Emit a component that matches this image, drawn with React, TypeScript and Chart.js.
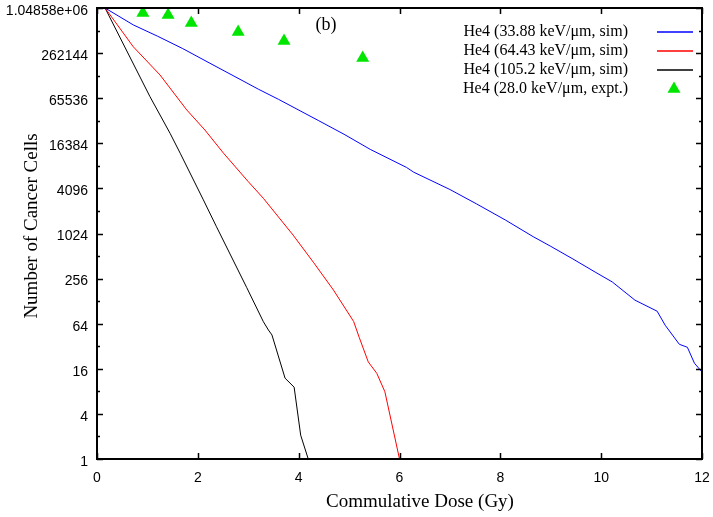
import React, { useEffect, useRef } from "react";
import { Chart, registerables } from "chart.js";

Chart.register(...registerables);

// ---- Data ----
const blueDose = [0.16, 0.72, 1.2, 1.7, 2.24, 2.7, 3.2, 3.6, 4.4, 4.9, 5.42, 6.14, 6.28, 7.0, 7.53, 8.1, 8.65, 9.0, 9.44, 9.88, 10.22, 10.67, 11.11, 11.27, 11.55, 11.71, 11.85, 12.0];
const blueCells = [1048576, 623400, 440900, 301200, 191900, 131072, 86500, 63300, 32768, 21630, 13590, 7800, 6750, 3960, 2540, 1550, 930, 690, 468, 313, 231, 132, 94, 61, 34, 31, 19, 14.5];

const redDose = [0.16, 0.72, 1.25, 1.78, 2.14, 2.51, 3.0, 3.3, 3.89, 4.3, 4.69, 5.09, 5.2, 5.38, 5.55, 5.71, 6.0];
const redCells = [1048576, 318300, 133800, 45700, 24660, 12080, 5040, 3020, 975, 416, 180, 68.6, 42.2, 19.8, 13.9, 7.9, 1];

const blackDose = [0.16, 1.05, 1.45, 1.65, 2.11, 2.37, 2.97, 3.3, 3.4, 3.47, 3.73, 3.91, 4.04, 4.19];
const blackCells = [1048576, 68800, 22230, 12080, 2876, 1261, 194, 68, 52.7, 45.3, 12.0, 9.1, 2.08, 1];

const exptDose = [0.91, 1.41, 1.87, 2.8, 3.71, 5.27];
const exptCells = [900000, 845600, 659000, 503000, 381200, 225000];

const seriesLabels = [
  "He4 (33.88 keV/\u03bcm, sim)",
  "He4 (64.43 keV/\u03bcm, sim)",
  "He4 (105.2 keV/\u03bcm, sim)",
  "He4 (28.0 keV/\u03bcm, expt.)",
];
const seriesColors = ["#0000ff", "#ff0000", "#000000", "#00e600"];

const xTickValues = [0, 2, 4, 6, 8, 10, 12];
const yMajorTicks = [1, 4, 16, 64, 256, 1024, 4096, 16384, 65536, 262144, 1048576];
const yMajorLabels = ["1", "4", "16", "64", "256", "1024", "4096", "16384", "65536", "262144", "1.04858e+06"];
const yMinorTicks = [2, 8, 32, 128, 512, 2048, 8192, 32768, 131072, 524288];

const xTitle = "Commulative Dose (Gy)";
const yTitle = "Number of Cancer Cells";
const panelLabel = "(b)";

const SERIF = '"Liberation Serif", "DejaVu Serif", serif';
const SANS = '"Liberation Sans", Arial, sans-serif';

const toPoints = (xs: number[], ys: number[]) => xs.map((x, i) => ({ x, y: ys[i] }));

const zeroPad = (s: any) => {
  s.paddingTop = 0;
  s.paddingBottom = 0;
  s.paddingLeft = 0;
  s.paddingRight = 0;
};

const decorPlugin = {
  id: "decor",
  afterDatasetsDraw(chart: any) {
    const { ctx, chartArea, scales } = chart;
    const { left, right, top, bottom } = chartArea;
    const xs = scales.x;
    const ys = scales.y;
    ctx.save();
    ctx.strokeStyle = "#000";
    // inward ticks
    ctx.lineWidth = 1.5;
    ctx.beginPath();
    yMajorTicks.forEach((v) => {
      const p = Math.round(ys.getPixelForValue(v)) + 0.5;
      ctx.moveTo(left, p); ctx.lineTo(left + 6, p);
      ctx.moveTo(right, p); ctx.lineTo(right - 6, p);
    });
    yMinorTicks.forEach((v) => {
      const p = Math.round(ys.getPixelForValue(v)) + 0.5;
      ctx.moveTo(left, p); ctx.lineTo(left + 3, p);
      ctx.moveTo(right, p); ctx.lineTo(right - 3, p);
    });
    xTickValues.forEach((v) => {
      const p = Math.round(xs.getPixelForValue(v)) + 0.5;
      ctx.moveTo(p, bottom); ctx.lineTo(p, bottom - 6);
      ctx.moveTo(p, top); ctx.lineTo(p, top + 6);
    });
    ctx.stroke();
    // frame
    ctx.lineWidth = 2;
    ctx.strokeRect(left, top, right - left, bottom - top);

    // panel label
    ctx.fillStyle = "#000";
    ctx.font = `18px ${SERIF}`;
    ctx.textAlign = "center";
    ctx.textBaseline = "middle";
    ctx.fillText(panelLabel, 326, 25);

    // legend
    ctx.font = `16px ${SERIF}`;
    ctx.textAlign = "right";
    const rowY = [32, 51, 70, 89];
    seriesLabels.forEach((lab, i) => {
      const y = rowY[i];
      ctx.fillStyle = "#000";
      ctx.fillText(lab, 628, y);
      if (i < 3) {
        ctx.strokeStyle = seriesColors[i];
        ctx.lineWidth = 1.5;
        ctx.beginPath();
        ctx.moveTo(657, y);
        ctx.lineTo(693, y);
        ctx.stroke();
      } else {
        const r = 7.5;
        ctx.fillStyle = seriesColors[i];
        ctx.beginPath();
        let rad = 0;
        const cx = 674;
        const cy = y;
        ctx.moveTo(cx + Math.sin(rad) * r, cy - Math.cos(rad) * r);
        rad += (2 * Math.PI) / 3;
        ctx.lineTo(cx + Math.sin(rad) * r, cy - Math.cos(rad) * r);
        rad += (2 * Math.PI) / 3;
        ctx.lineTo(cx + Math.sin(rad) * r, cy - Math.cos(rad) * r);
        ctx.closePath();
        ctx.fill();
      }
    });

    // axis titles
    ctx.fillStyle = "#000";
    ctx.font = `19px ${SERIF}`;
    ctx.textAlign = "center";
    ctx.textBaseline = "middle";
    ctx.fillText(xTitle, 420, 502);
    ctx.translate(32, 226);
    ctx.rotate(-Math.PI / 2);
    ctx.fillText(yTitle, 0, 0);
    ctx.restore();
  },
};

export default function App() {
  const ref = useRef<HTMLCanvasElement | null>(null);
  useEffect(() => {
    if (!ref.current) return;
    const chart = new Chart(ref.current, {
      type: "line",
      data: {
        datasets: [
          { label: seriesLabels[0], data: toPoints(blueDose, blueCells), borderColor: seriesColors[0], borderWidth: 1, pointRadius: 0, fill: false, tension: 0 },
          { label: seriesLabels[1], data: toPoints(redDose, redCells), borderColor: seriesColors[1], borderWidth: 1, pointRadius: 0, fill: false, tension: 0 },
          { label: seriesLabels[2], data: toPoints(blackDose, blackCells), borderColor: seriesColors[2], borderWidth: 1, pointRadius: 0, fill: false, tension: 0 },
          { label: seriesLabels[3], data: toPoints(exptDose, exptCells), showLine: false, pointStyle: "triangle", pointRadius: 7.5, pointBackgroundColor: seriesColors[3], pointBorderColor: seriesColors[3], pointBorderWidth: 0, borderColor: seriesColors[3] },
        ],
      },
      options: {
        animation: false,
        responsive: true,
        maintainAspectRatio: false,
        layout: { padding: { top: 8, right: 11, left: 0, bottom: 0 } },
        plugins: { legend: { display: false }, tooltip: { enabled: false } },
        scales: {
          x: {
            type: "linear",
            min: 0,
            max: 12,
            afterBuildTicks: (s: any) => { s.ticks = xTickValues.map((v) => ({ value: v })); },
            afterFit: (s: any) => { s.height = 58; zeroPad(s); },
            grid: { display: false, drawTicks: false },
            border: { display: false },
            ticks: { color: "#000", font: { family: SANS, size: 14, lineHeight: 1 }, padding: 12, maxRotation: 0, autoSkip: false, callback: (v: any) => String(v) },
          },
          y: {
            type: "logarithmic",
            min: 1,
            max: 1048576,
            afterBuildTicks: (s: any) => { s.ticks = yMajorTicks.map((v) => ({ value: v })); },
            afterFit: (s: any) => { s.width = 97; zeroPad(s); },
            grid: { display: false, drawTicks: false },
            border: { display: false },
            ticks: {
              color: "#000",
              font: { family: SANS, size: 14, lineHeight: 1 },
              padding: 9,
              labelOffset: 3,
              autoSkip: false,
              callback: (v: any) => {
                const i = yMajorTicks.indexOf(Number(v));
                return i >= 0 ? yMajorLabels[i] : "";
              },
            },
          },
        },
      },
      plugins: [decorPlugin],
    } as any);
    return () => chart.destroy();
  }, []);
  return (
    <div style={{ position: "fixed", left: 0, top: 0, width: 713, height: 517, background: "#fff" }}>
      <canvas ref={ref} />
    </div>
  );
}
